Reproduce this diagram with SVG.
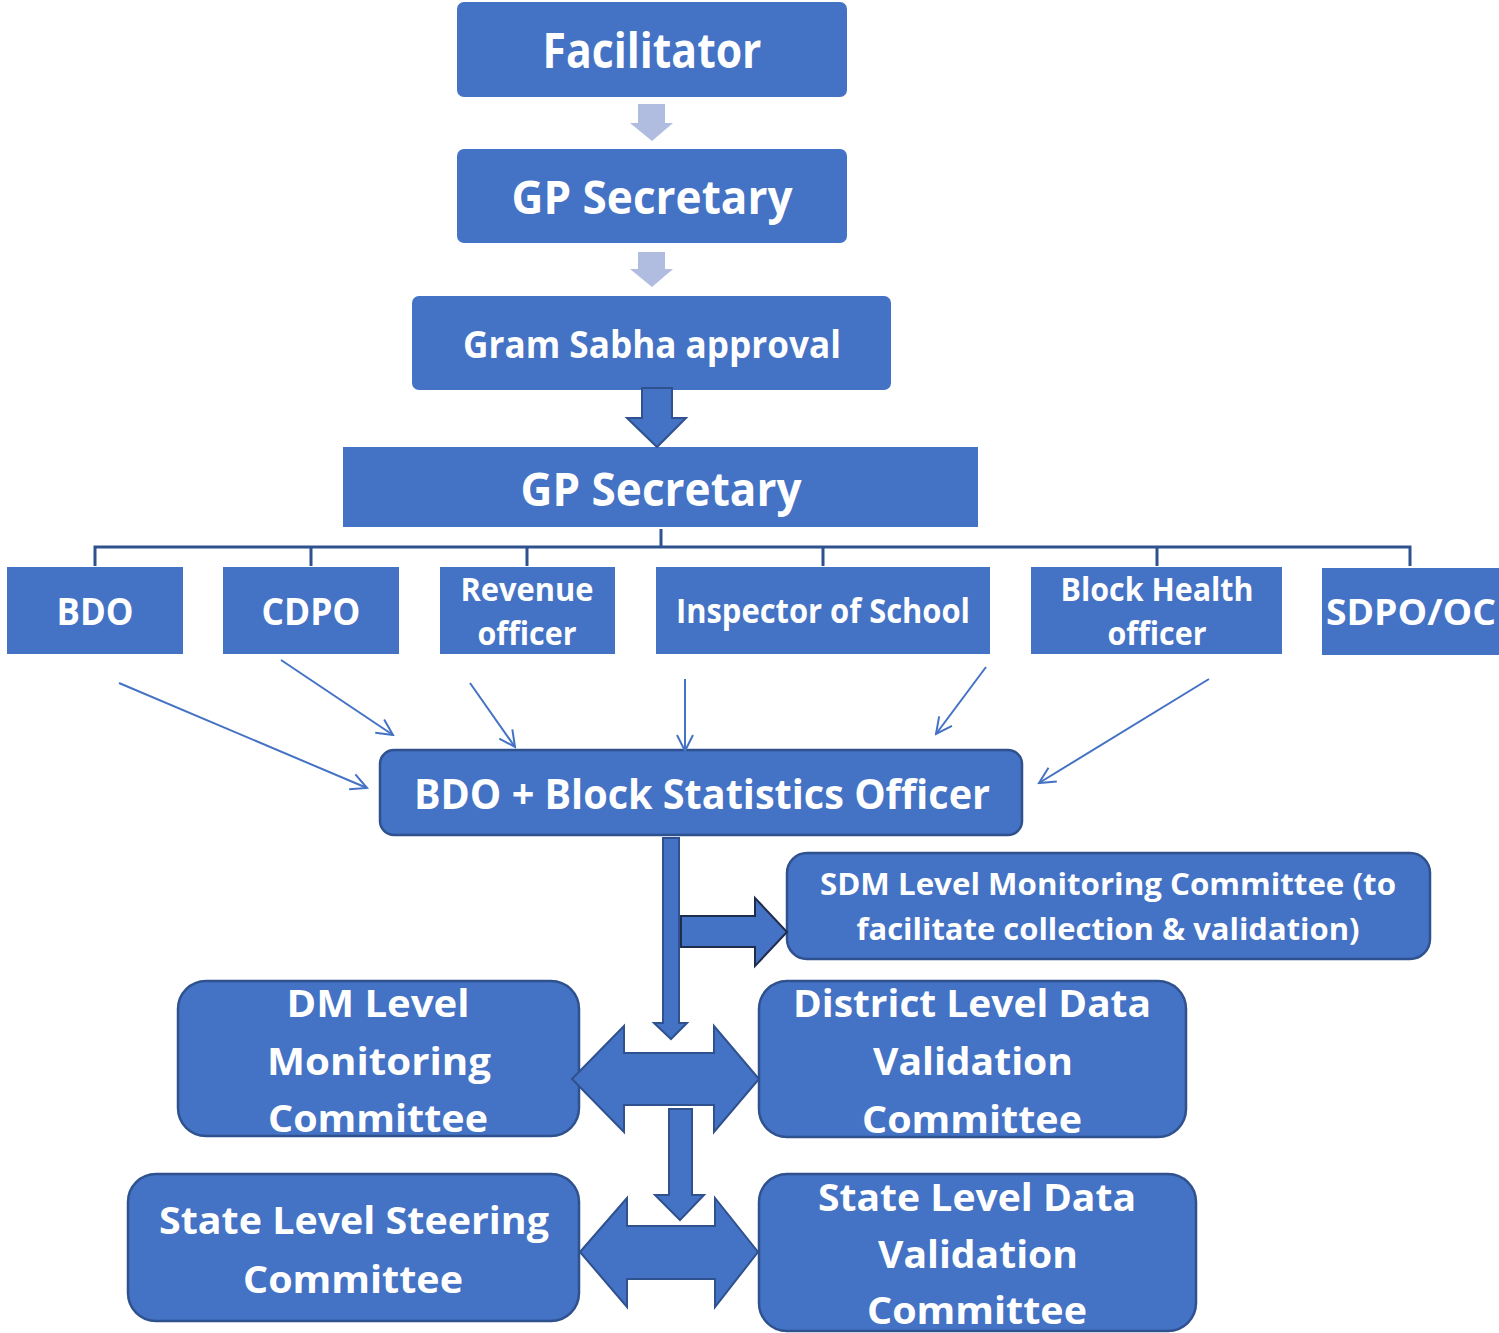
<svg xmlns="http://www.w3.org/2000/svg" width="1499" height="1333" viewBox="0 0 1499 1333">
<style>
.box{fill:#4472C4;}
.rbox{fill:#4472C4;stroke:#2F528F;stroke-width:2.5;}
.t{fill:#fff;font-family:"Open Sans","Liberation Sans",sans-serif;font-weight:700;text-anchor:middle;}
.light{fill:#B0BDE0;}
.big{fill:#4472C4;stroke:#2F528F;stroke-width:2;}
.dark{fill:#4472C4;stroke:#1F2D4D;stroke-width:2;}
.org{fill:none;stroke:#2F528F;stroke-width:3;}
.thin{fill:none;stroke:#4472C4;stroke-width:2;marker-end:url(#ah);}
</style>
<defs>
<marker id="ah" markerUnits="userSpaceOnUse" viewBox="0 0 20 20" refX="18" refY="10" markerWidth="20" markerHeight="20" orient="auto">
<path d="M2,2 L18,10 L2,18" fill="none" stroke="#4472C4" stroke-width="2"/>
</marker>
</defs>
<rect width="1499" height="1333" fill="#fff"/>

<g id="facilitator">
<rect class="box" x="457" y="2" width="390" height="95" rx="7"/>
<text class="t" x="652" y="68" font-size="48" textLength="219" lengthAdjust="spacingAndGlyphs">Facilitator</text>
</g>
<g id="gp-secretary-1">
<rect class="box" x="457" y="149" width="390" height="94" rx="7"/>
<text class="t" x="652" y="214" font-size="46" textLength="281" lengthAdjust="spacingAndGlyphs">GP Secretary</text>
</g>
<g id="gram-sabha">
<rect class="box" x="412" y="296" width="479" height="94" rx="7"/>
<text class="t" x="652" y="358" font-size="38" textLength="378" lengthAdjust="spacingAndGlyphs">Gram Sabha approval</text>
</g>
<g id="gp-secretary-2">
<rect class="box" x="343" y="447" width="635" height="80"/>
<text class="t" x="661" y="506" font-size="46" textLength="281" lengthAdjust="spacingAndGlyphs">GP Secretary</text>
</g>

<g id="bdo">
<rect class="box" x="7" y="567" width="176" height="87"/>
<text class="t" x="95" y="625" font-size="38" textLength="77" lengthAdjust="spacingAndGlyphs">BDO</text>
</g>
<g id="cdpo">
<rect class="box" x="223" y="567" width="176" height="87"/>
<text class="t" x="311" y="625" font-size="38" textLength="99" lengthAdjust="spacingAndGlyphs">CDPO</text>
</g>
<g id="revenue-officer">
<rect class="box" x="440" y="567" width="175" height="87"/>
<text class="t" x="527" y="601" font-size="32" textLength="133" lengthAdjust="spacingAndGlyphs">Revenue</text>
<text class="t" x="527" y="645" font-size="32" textLength="99" lengthAdjust="spacingAndGlyphs">officer</text>
</g>
<g id="inspector-of-school">
<rect class="box" x="656" y="567" width="334" height="87"/>
<text class="t" x="823" y="623" font-size="34" textLength="294" lengthAdjust="spacingAndGlyphs">Inspector of School</text>
</g>
<g id="block-health-officer">
<rect class="box" x="1031" y="567" width="251" height="87"/>
<text class="t" x="1157" y="601" font-size="32" textLength="193" lengthAdjust="spacingAndGlyphs">Block Health</text>
<text class="t" x="1157" y="645" font-size="32" textLength="99" lengthAdjust="spacingAndGlyphs">officer</text>
</g>
<g id="sdpo-oc">
<rect class="box" x="1322" y="568" width="177" height="87"/>
<text class="t" x="1411" y="625" font-size="36" textLength="170" lengthAdjust="spacingAndGlyphs">SDPO/OC</text>
</g>

<g id="bdo-bso">
<rect class="rbox" x="380" y="750" width="642" height="85" rx="14"/>
<text class="t" x="702" y="809" font-size="42" textLength="576" lengthAdjust="spacingAndGlyphs">BDO + Block Statistics Officer</text>
</g>
<g id="sdm-committee">
<rect class="rbox" x="787" y="853" width="643" height="106" rx="20"/>
<text class="t" x="1108" y="895" font-size="31" textLength="576" lengthAdjust="spacingAndGlyphs">SDM Level Monitoring Committee (to</text>
<text class="t" x="1108" y="940" font-size="31" textLength="503" lengthAdjust="spacingAndGlyphs">facilitate collection &amp; validation)</text>
</g>
<g id="dm-committee">
<rect class="rbox" x="178" y="981" width="401" height="155" rx="28"/>
<text class="t" x="378" y="1017" font-size="38" textLength="183" lengthAdjust="spacingAndGlyphs">DM Level</text>
<text class="t" x="379" y="1075" font-size="38" textLength="224" lengthAdjust="spacingAndGlyphs">Monitoring</text>
<text class="t" x="378" y="1132" font-size="38" textLength="220" lengthAdjust="spacingAndGlyphs">Committee</text>
</g>
<g id="district-committee">
<rect class="rbox" x="759" y="981" width="427" height="156" rx="28"/>
<text class="t" x="972" y="1017" font-size="38" textLength="358" lengthAdjust="spacingAndGlyphs">District Level Data</text>
<text class="t" x="973" y="1075" font-size="38" textLength="200" lengthAdjust="spacingAndGlyphs">Validation</text>
<text class="t" x="972" y="1133" font-size="38" textLength="220" lengthAdjust="spacingAndGlyphs">Committee</text>
</g>
<g id="state-steering">
<rect class="rbox" x="128" y="1174" width="451" height="147" rx="28"/>
<text class="t" x="354" y="1234" font-size="38" textLength="390" lengthAdjust="spacingAndGlyphs">State Level Steering</text>
<text class="t" x="353" y="1293" font-size="38" textLength="220" lengthAdjust="spacingAndGlyphs">Committee</text>
</g>
<g id="state-validation">
<rect class="rbox" x="759" y="1174" width="437" height="157" rx="28"/>
<text class="t" x="977" y="1211" font-size="38" textLength="318" lengthAdjust="spacingAndGlyphs">State Level Data</text>
<text class="t" x="978" y="1268" font-size="38" textLength="200" lengthAdjust="spacingAndGlyphs">Validation</text>
<text class="t" x="977" y="1324" font-size="37" textLength="220" lengthAdjust="spacingAndGlyphs">Committee</text>
</g>

<g id="connectors">
<polygon class="light" points="638,104 665,104 665,123 673,123 652,141 630,123 638,123"/>
<polygon class="light" points="638,252 665,252 665,269 673,269 652,287 630,269 638,269"/>
<polygon class="big" points="642,388 672,388 672,418 686,418 657,447 627,418 642,418"/>
<path class="org" d="M661,529 V547 M95,566 V547 H1410 V566 M311,547 V566 M527,547 V566 M823,547 V566 M1157,547 V566"/>
<line class="thin" x1="119" y1="683" x2="367" y2="788"/>
<line class="thin" x1="281" y1="660" x2="393" y2="735"/>
<line class="thin" x1="470" y1="683" x2="515" y2="747"/>
<line class="thin" x1="685" y1="679" x2="685" y2="751"/>
<line class="thin" x1="986" y1="667" x2="936" y2="734"/>
<line class="thin" x1="1209" y1="679" x2="1039" y2="783"/>
<polygon class="big" points="663,838 679,838 679,1023 687,1023 671,1039 654,1023 663,1023"/>
<polygon class="dark" points="681,916 755,916 755,898 787,932 755,966 755,947 681,947"/>
<polygon class="big" points="572,1079 624,1026 624,1053 714,1053 714,1026 759,1079 714,1132 714,1105 624,1105 624,1132"/>
<polygon class="big" points="669,1109 692,1109 692,1195 704,1195 680,1220 655,1195 669,1195"/>
<polygon class="big" points="580,1252 627,1198 627,1226 715,1226 715,1198 758,1252 715,1307 715,1279 627,1279 627,1307"/>
</g>
</svg>
